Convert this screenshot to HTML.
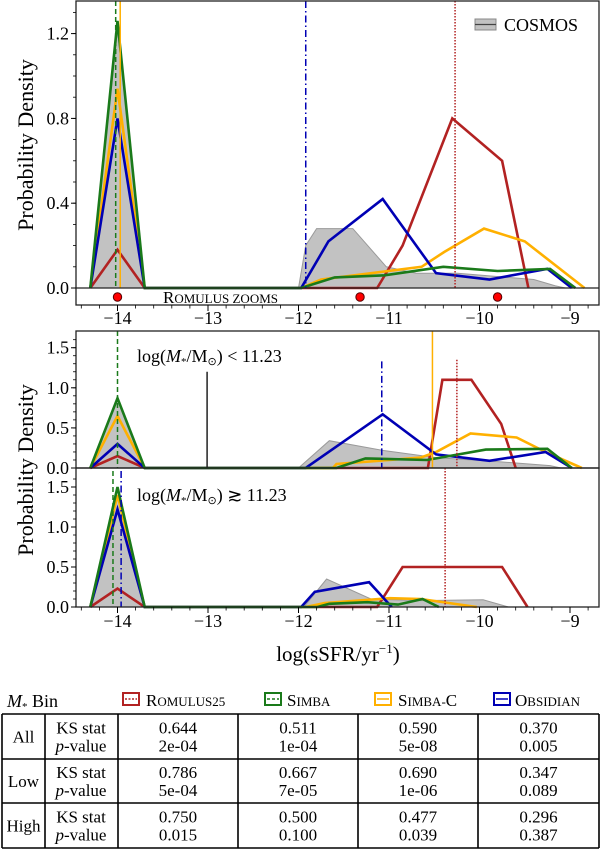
<!DOCTYPE html>
<html><head><meta charset="utf-8"><style>
body{margin:0;background:#fff;}
svg{display:block;font-family:"Liberation Serif",serif;}
</style></head><body>
<svg id="fig" width="600" height="849" viewBox="0 0 600 849"></svg>
<script>
// ---------- data ----------
const xTicks = [-14, -13, -12, -11, -10, -9];
const xTickLabels = ["\u221214", "\u221213", "\u221212", "\u221211", "\u221210", "\u22129"];
const peakX = [-14.3, -14.0, -13.7];

// Top panel (All)
const allYTicks = [0.0, 0.4, 0.8, 1.2];
const allYTickLabels = ["0.0", "0.4", "0.8", "1.2"];
const allCosmosPeak = 1.22;
const allCosmosX = [-12.0, -11.92, -11.8, -11.4, -11.03, -10.7, -10.24, -9.4, -9.16, -9.05];
const allCosmosY = [0, 0.2, 0.28, 0.28, 0.1, 0.07, 0.07, 0.04, 0.01, 0];
const allRomPeak = 0.18;
const allRomX = [-11.13, -10.85, -10.3, -9.75, -9.46];
const allRomY = [0, 0.2, 0.8, 0.6, 0];
const allSimbaCPeak = 0.94;
const allSimbaCX = [-11.97, -11.75, -10.64, -10.39, -9.95, -9.5, -8.84];
const allSimbaCY = [0, 0.04, 0.1, 0.17, 0.28, 0.22, 0];
const allSimbaPeak = 1.26;
const allSimbaX = [-11.97, -11.6, -11.05, -10.4, -9.8, -9.22, -8.94];
const allSimbaY = [0, 0.05, 0.06, 0.1, 0.08, 0.09, 0];
const allObsPeak = 0.8;
const allObsX = [-11.97, -11.67, -11.07, -10.48, -9.89, -9.25, -8.98];
const allObsY = [0, 0.22, 0.42, 0.07, 0.04, 0.09, 0];
const allMedians = {rom: -10.27, simba: -14.02, simbac: -13.97, obs: -11.92};
const romulusZooms = [-14.0, -11.32, -9.80];

// Middle panel (Low)
const lowYTicks = [0.0, 0.5, 1.0, 1.5];
const lowYTickLabels = ["0.0", "0.5", "1.0", "1.5"];
const lowCosmosPeak = 0.85;
const lowCosmosX = [-12.0, -11.66, -11.07, -10.48, -9.8, -9.22, -9.1];
const lowCosmosY = [0, 0.34, 0.22, 0.13, 0.08, 0.03, 0];
const lowRomPeak = 0.15;
const lowRomX = [-10.57, -10.41, -10.09, -9.76, -9.6];
const lowRomY = [0, 1.1, 1.1, 0.55, 0];
const lowSimbaCPeak = 0.65;
const lowSimbaCX = [-11.62, -11.58, -10.65, -10.48, -10.1, -9.59, -9.27, -8.87];
const lowSimbaCY = [0, 0.05, 0.13, 0.2, 0.43, 0.38, 0.2, 0];
const lowSimbaPeak = 0.87;
const lowSimbaX = [-11.58, -11.26, -10.58, -9.93, -9.25, -8.98];
const lowSimbaY = [0, 0.12, 0.1, 0.23, 0.24, 0];
const lowObsPeak = 0.3;
const lowObsX = [-11.92, -11.07, -10.48, -9.89, -9.27, -8.98];
const lowObsY = [0, 0.67, 0.17, 0.09, 0.2, 0];
const lowMedians = {rom: -10.25, romTop: 1.35, simba: -14.0, simbac: -10.52, obs: -11.08, obsTop: 1.33, cosmos: -13.01, cosmosTop: 1.2};

// Bottom panel (High)
const highCosmosPeak = 1.4;
const highCosmosX = [-11.94, -11.69, -11.2, -10.66, -9.96, -9.68];
const highCosmosY = [0, 0.35, 0.1, 0.08, 0.09, 0];
const highRomPeak = 0.23;
const highRomX = [-11.13, -10.85, -9.75, -9.47];
const highRomY = [0, 0.5, 0.5, 0];
const highSimbaCPeak = 1.4;
const highSimbaCX = [-11.92, -11.71, -10.99, -10.65, -10.03];
const highSimbaCY = [0, 0.05, 0.11, 0.1, 0];
const highSimbaPeak = 1.5;
const highSimbaX = [-11.79, -11.66, -11.24, -10.9, -10.63, -10.45];
const highSimbaY = [0, 0.04, 0.06, 0.03, 0.1, 0];
const highObsPeak = 1.22;
const highObsX = [-11.97, -11.82, -11.22, -10.97];
const highObsY = [0, 0.19, 0.31, 0];
const highMedians = {rom: -10.38, simba: -14.05, obs: -13.96};

// Table
const colNames = ["Romulus25", "Simba", "Simba-C", "Obsidian"];
const rowNames = ["All", "Low", "High"];
const ksStat = [["0.644","0.511","0.590","0.370"],["0.786","0.667","0.690","0.347"],["0.750","0.500","0.477","0.296"]];
const pValue = [["2e-04","1e-04","5e-08","0.005"],["5e-04","7e-05","1e-06","0.089"],["0.015","0.100","0.039","0.387"]];

// ---------- drawing ----------
const NS = "http://www.w3.org/2000/svg";
const svg = document.getElementById("fig");
function mk(tag, at, parent) {
  const e = document.createElementNS(NS, tag);
  for (const k in at) if (at[k] !== undefined && at[k] !== null) e.setAttribute(k, at[k]);
  (parent || svg).appendChild(e);
  return e;
}
const C = {rom: "#b22222", simba: "#1a7a1a", simbac: "#ffb000", obs: "#0000b4"};
const X0 = 76, X1 = 599;
const sx = v => 117.5 + (v + 14) * 90.5;

function panel(name, top, zeroY, pxPerUnit) {
  return {name, top, zeroY, sy: v => zeroY - v * pxPerUnit};
}
function series(p, name, color, peak, xs, ys, fill) {
  const px = peakX.concat(xs), py = [0, peak, 0].concat(ys);
  const pts = px.map((x, i) => sx(x).toFixed(1) + "," + p.sy(py[i]).toFixed(1));
  let e;
  if (fill) {
    e = mk("polygon", {points: pts.join(" "), fill: "#c2c2c2", stroke: "#9a9a9a", "stroke-width": 1});
  } else {
    e = mk("polyline", {points: pts.join(" "), fill: "none", stroke: color, "stroke-width": 2.6, "stroke-linejoin": "miter"});
  }
  
  
}
function vline(p, name, x, color, dash, topVal) {
  const y1 = topVal === undefined ? p.top : p.sy(topVal);
  const e = mk("line", {x1: sx(x), x2: sx(x), y1: y1, y2: p.zeroY, stroke: color, "stroke-width": 1.5, "stroke-dasharray": dash});
  
  
}
function yaxis(p, ticks, labels, minorStep, maxVal) {
  ticks.forEach((t, i) => {
    const y = p.sy(t);
    if (y < p.top - 1) return;
    mk("line", {x1: X0 - 5, x2: X0, y1: y, y2: y, stroke: "#000", "stroke-width": 1});
    const tx = mk("text", {x: X0 - 7, y: y + 6, "text-anchor": "end", "font-size": 18});
    tx.textContent = labels[i];
    
    
  });
  for (let v = 0; v <= maxVal; v += minorStep) {
    const y = p.sy(v);
    if (y < p.top) continue;
    mk("line", {x1: X0 - 3, x2: X0, y1: y, y2: y, stroke: "#000", "stroke-width": 0.8});
  }
}
function xaxisTicks(yBase, labelY, withLabels) {
  for (let v = -14.4; v <= -8.7; v += 0.2) {
    const major = Math.abs(v - Math.round(v)) < 0.01;
    mk("line", {x1: sx(v), x2: sx(v), y1: yBase, y2: yBase + (major ? 6 : 3.5), stroke: "#000", "stroke-width": major ? 1 : 0.8});
  }
  if (withLabels) xTicks.forEach((t, i) => {
    const tx = mk("text", {x: sx(t), y: labelY, "text-anchor": "middle", "font-size": 18});
    tx.textContent = xTickLabels[i];
    
    
  });
}
function frame(name, y0, y1) {
  const r = mk("rect", {x: X0, y: y0, width: X1 - X0, height: y1 - y0, fill: "none", stroke: "#222", "stroke-width": 1.3});
  
  
}
function drawAll(p, d) {
  series(p, "cosmos-area", null, d.cP, d.cX, d.cY, true);
  series(p, "romulus25-line", C.rom, d.rP, d.rX, d.rY);
  series(p, "simba-c-line", C.simbac, d.scP, d.scX, d.scY);
  series(p, "obsidian-line", C.obs, d.oP, d.oX, d.oY);
  series(p, "simba-line", C.simba, d.sP, d.sX, d.sY);
}

// top panel
const pA = panel("panel-all", 1, 288, 212);
drawAll(pA, {cP: allCosmosPeak, cX: allCosmosX, cY: allCosmosY, rP: allRomPeak, rX: allRomX, rY: allRomY,
  scP: allSimbaCPeak, scX: allSimbaCX, scY: allSimbaCY, sP: allSimbaPeak, sX: allSimbaX, sY: allSimbaY, oP: allObsPeak, oX: allObsX, oY: allObsY});
vline(pA, "simba-median", allMedians.simba, C.simba, "5,3");
vline(pA, "simba-c-median", allMedians.simbac, C.simbac);
vline(pA, "obsidian-median", allMedians.obs, C.obs, "7,3,1.5,3");
vline(pA, "romulus25-median", allMedians.rom, C.rom, "1.5,1.5");
frame("panel-all-frame", 1, 305);
mk("line", {x1: X0, x2: X1, y1: 288, y2: 288, stroke: "#222", "stroke-width": 1.3});
yaxis(pA, allYTicks, allYTickLabels, 0.1, 1.3);
xaxisTicks(305, 324, true);
romulusZooms.forEach(z => {
  const c = mk("circle", {cx: sx(z), cy: 297, r: 4.2, fill: "#ff0000", stroke: "#500", "stroke-width": 1});
  
  
});
let t = mk("text", {x: 163, y: 303, "font-size": 17});
t.innerHTML = 'R<tspan font-size="13">OMULUS ZOOMS</tspan>';
 
// legend
let lg = mk("g", {});
 
mk("rect", {x: 475, y: 19, width: 21, height: 11, fill: "#c2c2c2", stroke: "#888", "stroke-width": 1}, lg);
mk("line", {x1: 475, x2: 496, y1: 24.5, y2: 24.5, stroke: "#444", "stroke-width": 1.2}, lg);
t = mk("text", {x: 504, y: 31, "font-size": 18}, lg); t.textContent = "COSMOS";

// middle panel
const pL = panel("panel-low", 331, 468, 80.2);
drawAll(pL, {cP: lowCosmosPeak, cX: lowCosmosX, cY: lowCosmosY, rP: lowRomPeak, rX: lowRomX, rY: lowRomY,
  scP: lowSimbaCPeak, scX: lowSimbaCX, scY: lowSimbaCY, sP: lowSimbaPeak, sX: lowSimbaX, sY: lowSimbaY, oP: lowObsPeak, oX: lowObsX, oY: lowObsY});
vline(pL, "simba-median", lowMedians.simba, C.simba, "5,3");
vline(pL, "cosmos-median", lowMedians.cosmos, "#222", null, lowMedians.cosmosTop);
vline(pL, "obsidian-median", lowMedians.obs, C.obs, "7,3,1.5,3", lowMedians.obsTop);
vline(pL, "simba-c-median", lowMedians.simbac, C.simbac);
vline(pL, "romulus25-median", lowMedians.rom, C.rom, "1.5,1.5", lowMedians.romTop);
frame("panel-low-frame", 331, 468);
yaxis(pL, lowYTicks, lowYTickLabels, 0.1, 1.7);
t = mk("text", {x: 137, y: 362, "font-size": 18});
t.innerHTML = 'log(<tspan font-style="italic">M</tspan><tspan font-size="11" dy="3">*</tspan><tspan dy="-3">/M</tspan><tspan font-size="11" dy="3">\u2299</tspan><tspan dy="-3">) &lt; 11.23</tspan>';
 

// bottom panel
const pH = panel("panel-high", 468, 607, 80);
drawAll(pH, {cP: highCosmosPeak, cX: highCosmosX, cY: highCosmosY, rP: highRomPeak, rX: highRomX, rY: highRomY,
  scP: highSimbaCPeak, scX: highSimbaCX, scY: highSimbaCY, sP: highSimbaPeak, sX: highSimbaX, sY: highSimbaY, oP: highObsPeak, oX: highObsX, oY: highObsY});
vline(pH, "simba-median", highMedians.simba, C.simba, "5,3", 1.7);
vline(pH, "obsidian-median", highMedians.obs, C.obs, "7,3,1.5,3", 1.7);
vline(pH, "romulus25-median", highMedians.rom, C.rom, "1.5,1.5");
frame("panel-high-frame", 468, 607);
yaxis(pH, lowYTicks, lowYTickLabels, 0.1, 1.7);
xaxisTicks(607, 627, true);
t = mk("text", {x: 137, y: 501, "font-size": 18});
t.innerHTML = 'log(<tspan font-style="italic">M</tspan><tspan font-size="11" dy="3">*</tspan><tspan dy="-3">/M</tspan><tspan font-size="11" dy="3">\u2299</tspan><tspan dy="-3">) \u2273 11.23</tspan>';
 

// axis titles
t = mk("text", {x: 0, y: 0, "font-size": 22, "text-anchor": "middle", transform: "translate(33,145) rotate(-90)"});
t.textContent = "Probability Density";
 
t = mk("text", {x: 0, y: 0, "font-size": 22, "text-anchor": "middle", transform: "translate(33,470) rotate(-90)"});
t.textContent = "Probability Density";
 
t = mk("text", {x: 338, y: 661, "font-size": 21, "text-anchor": "middle"});
t.innerHTML = 'log(sSFR/yr<tspan font-size="13" dy="-8">\u22121</tspan><tspan dy="8">)</tspan>';
 

// ---------- table ----------
t = mk("text", {x: 7, y: 707, "font-size": 18});
t.innerHTML = '<tspan font-style="italic">M</tspan><tspan font-size="11" dy="3">*</tspan><tspan dy="-3"> Bin</tspan>';
 
const legX = [123, 265, 375, 494];
const legTextX = [146, 287, 398, 515];
const legCol = [C.rom, C.simba, C.simbac, C.obs];
const legDash = ["2,1.5", "3,2", null, null];
colNames.forEach((n, i) => {
  const g = mk("g", {});
  
  
  mk("rect", {x: legX[i], y: 693, width: 16, height: 12, fill: "none", stroke: legCol[i], "stroke-width": 2}, g);
  mk("line", {x1: legX[i] + 2, x2: legX[i] + 14, y1: 699, y2: 699, stroke: legCol[i], "stroke-width": 1.5, "stroke-dasharray": legDash[i]}, g);
  const tx = mk("text", {x: legTextX[i], y: 706, "font-size": 17}, g);
  let html = n[0];
  const rest = n.slice(1);
  for (const ch of rest) {
    if (ch === ch.toUpperCase() && /[A-Z]/.test(ch)) html += ch;
    else html += '<tspan font-size="13">' + ch.toUpperCase() + '</tspan>';
  }
  tx.innerHTML = html;
});
const colX = [2, 45, 118, 238, 358, 478, 599];
const rowY = [714, 759, 803, 848];
const tb = mk("g", {});
 
rowY.forEach(y => mk("line", {x1: 2, x2: 599, y1: y, y2: y, stroke: "#000", "stroke-width": 1.6}, tb));
colX.forEach(x => mk("line", {x1: x, x2: x, y1: 714, y2: 848, stroke: "#000", "stroke-width": 1.6}, tb));
rowNames.forEach((r, i) => {
  const yMid = (rowY[i] + rowY[i + 1]) / 2;
  let e = mk("text", {x: 23.5, y: yMid + 6, "text-anchor": "middle", "font-size": 17}, tb); e.textContent = r;
  e = mk("text", {x: 81, y: yMid - 3, "text-anchor": "middle", "font-size": 17}, tb); e.textContent = "KS stat";
  e = mk("text", {x: 81, y: yMid + 15, "text-anchor": "middle", "font-size": 17}, tb);
  e.innerHTML = '<tspan font-style="italic">p</tspan>-value';
  for (let c = 0; c < 4; c++) {
    const cx = (colX[c + 2] + colX[c + 3]) / 2;
    e = mk("text", {x: cx, y: yMid - 3, "text-anchor": "middle", "font-size": 17}, tb); e.textContent = ksStat[i][c];
    e = mk("text", {x: cx, y: yMid + 15, "text-anchor": "middle", "font-size": 17}, tb); e.textContent = pValue[i][c];
  }
});
</script>
</body></html>
